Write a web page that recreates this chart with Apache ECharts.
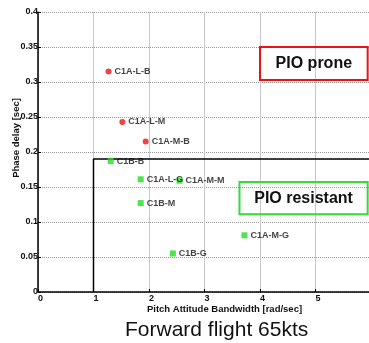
<!DOCTYPE html>
<html><head><meta charset="utf-8">
<script src="https://cdn.jsdelivr.net/npm/echarts@6/dist/echarts.min.js"></script>
<style>html,body{margin:0;padding:0;background:#fff}#c{width:369px;height:343px}</style>
</head><body><div id="c"></div>
<script>
const proneNames = ['C1A-L-B', 'C1A-L-M', 'C1A-M-B'];
const proneX = [1.27, 1.52, 1.94];
const proneY = [0.315, 0.243, 0.215];
const resistNames = ['C1B-B', 'C1A-L-G', 'C1A-M-M', 'C1B-M', 'C1B-G', 'C1A-M-G'];
const resistX = [1.31, 1.85, 2.55, 1.85, 2.43, 3.72];
const resistY = [0.187, 0.161, 0.159, 0.127, 0.055, 0.081];
const boundary = [[1, 0], [1, 0.19], [6, 0.19]];
const xTicks = ['0', '1', '2', '3', '4', '5', '6'];
const yTicks = ['0', '0.05', '0.1', '0.15', '0.2', '0.25', '0.3', '0.35', '0.4'];

const F = '"Liberation Sans", Arial, sans-serif';
const mk = (names, xs, ys) => names.map((n, i) => ({ name: n, value: [xs[i], ys[i]] }));
const lbl = { show: true, position: 'right', distance: 3, formatter: '{b}', color: '#111', fontSize: 9, fontWeight: 'bold', fontFamily: F };

const chart = echarts.init(document.getElementById('c'));
chart.setOption({
  animation: false,
  backgroundColor: '#fff',
  title: { text: 'Forward flight 65kts', left: 120, top: 315,
    textStyle: { fontFamily: F, fontSize: 21, fontWeight: 'normal', color: '#111' } },
  grid: { left: 38, top: 12, width: 333, height: 280, containLabel: false, outerBoundsMode: 'none' },
  xAxis: {
    type: 'value', min: 0, max: 6, interval: 1,
    name: 'Pitch Attitude Bandwidth [rad/sec]', nameLocation: 'middle', nameGap: 12, nameMoveOverlap: false,
    nameTextStyle: { fontFamily: F, fontSize: 9.5, fontWeight: 'bold', color: '#111', padding: [0, 0, 0, 40] },
    axisLine: { lineStyle: { color: '#000', width: 1.5 } },
    axisTick: { inside: true, length: 3, lineStyle: { color: '#000' } },
    axisLabel: { formatter: v => xTicks[Math.round(v)], showMaxLabel: false, margin: 2, color: '#111', fontSize: 9, fontWeight: 'bold', fontFamily: F, align: 'left' },
    splitLine: { show: true, lineStyle: { color: '#c8c8c8', width: 1 } }
  },
  yAxis: {
    type: 'value', min: 0, max: 0.4, interval: 0.05,
    name: 'Phase delay [sec]', nameLocation: 'middle', nameGap: 17, nameRotate: 90, nameMoveOverlap: false,
    nameTextStyle: { fontFamily: F, fontSize: 9.5, fontWeight: 'bold', color: '#111', padding: [0, 0, 0, 28] },
    axisLine: { lineStyle: { color: '#000', width: 1.5 } },
    axisTick: { inside: true, length: 3, lineStyle: { color: '#000' } },
    axisLabel: { formatter: v => yTicks[Math.round(v / 0.05)], margin: 0, color: '#111', fontSize: 9, fontWeight: 'bold', fontFamily: F },
    splitLine: { show: true, lineStyle: { color: '#999', width: 1, type: [1, 1] } }
  },
  series: [
    { type: 'scatter', symbol: 'circle', symbolSize: 6, itemStyle: { color: '#ee1111' },
      data: mk(proneNames, proneX, proneY), label: lbl, z: 5 },
    { type: 'scatter', symbol: 'rect', symbolSize: 6, itemStyle: { color: '#22dd22' },
      data: mk(resistNames, resistX, resistY), label: lbl, z: 5 },
    { type: 'line', data: boundary, symbol: 'none', lineStyle: { color: '#000', width: 1.5 }, z: 3,
      markArea: {
        silent: true,
        data: [
          [{ coord: [4.0, 0.35], itemStyle: { color: 'rgba(0,0,0,0)', borderColor: '#ee1111', borderWidth: 2 },
             label: { show: true, position: 'inside', formatter: 'PIO prone', fontFamily: F, fontSize: 16, fontWeight: 'bold', color: '#111' } },
           { coord: [5.94, 0.303] }],
          [{ coord: [3.63, 0.157], itemStyle: { color: 'rgba(0,0,0,0)', borderColor: '#33dd33', borderWidth: 2 },
             label: { show: true, position: 'inside', formatter: 'PIO resistant', fontFamily: F, fontSize: 16, fontWeight: 'bold', color: '#111' } },
           { coord: [5.94, 0.111] }]
        ]
      } }
  ]
});
</script></body></html>
